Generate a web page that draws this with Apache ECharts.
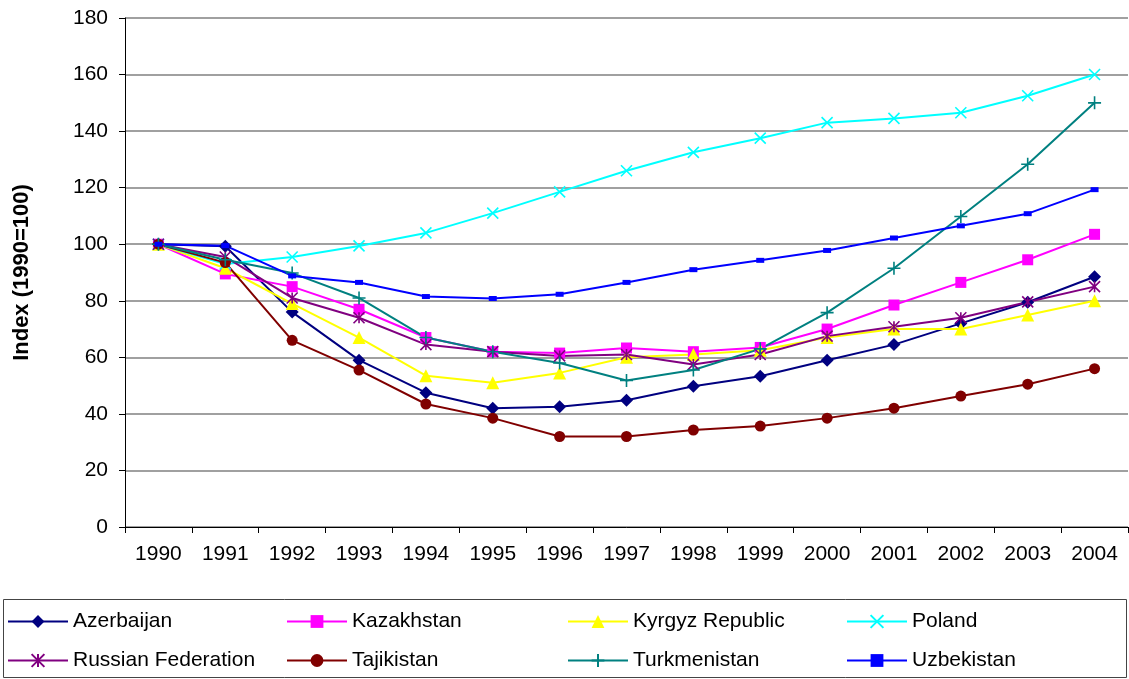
<!DOCTYPE html>
<html>
<head>
<meta charset="utf-8">
<script src="https://cdn.jsdelivr.net/npm/echarts@6/dist/echarts.min.js"></script>
<style>
  html, body { margin: 0; padding: 0; background: #fff; }
  #main { width: 1129px; height: 679px; }
</style>
</head>
<body>
<div id="main"></div>
<script>
var years = ['1990','1991','1992','1993','1994','1995','1996','1997','1998','1999','2000','2001','2002','2003','2004'];
var yTicks = [0, 20, 40, 60, 80, 100, 120, 140, 160, 180];

var azerbaijan   = [100, 99.3, 76, 59, 47.5, 42, 42.5, 44.8, 49.8, 53.3, 59, 64.5, 72, 79.5, 88.5];
var kazakhstan   = [100, 89.5, 85, 77, 67, 62, 61.5, 63.3, 62, 63.5, 70, 78.5, 86.5, 94.5, 103.5];
var kyrgyz       = [100, 91.5, 79, 67, 53.5, 51, 54.5, 60, 61, 62.5, 67, 70, 70, 75, 80];
var poland       = [100, 93, 95.5, 99.4, 104, 111, 118.5, 126, 132.5, 137.5, 143, 144.5, 146.5, 152.5, 160];
var russia       = [100, 95.5, 81, 74, 64.5, 62, 60.5, 61, 57.5, 61, 67.5, 70.8, 74, 79.6, 85];
var tajikistan   = [100, 93.5, 66, 55.5, 43.5, 38.5, 32, 32, 34.3, 35.7, 38.5, 42, 46.3, 50.5, 56];
var turkmenistan = [100, 94.5, 89.8, 81, 67, 62, 58, 51.8, 55.5, 63, 75.8, 91.5, 109.8, 128.3, 150];
var uzbekistan   = [100, 99.5, 88.8, 86.5, 81.5, 80.8, 82.3, 86.5, 91, 94.3, 97.8, 102.2, 106.5, 110.8, 119.3];

var seriesNames = ['Azerbaijan', 'Kazakhstan', 'Kyrgyz Republic', 'Poland',
                   'Russian Federation', 'Tajikistan', 'Turkmenistan', 'Uzbekistan'];

var X_PATH = 'path://M0,0L10,10M10,0L0,10';
var STAR_PATH = 'path://M0,0L10,10M10,0L0,10M5,0L5,10';
var PLUS_PATH = 'path://M5,0L5,10M0,5L10,5';

function mk(name, data, color, symbol, size, stroke) {
  return {
    name: name,
    type: 'line',
    data: data,
    symbol: symbol,
    symbolSize: size,
    lineStyle: { color: color, width: 2 },
    itemStyle: stroke
      ? { color: color, borderColor: color, borderWidth: 1.6 }
      : { color: color, borderWidth: 0 },
    emphasis: { disabled: true },
    animation: false
  };
}

var font = 'Liberation Sans, Arial, sans-serif';

// legend laid out as a 4 x 2 grid, one small legend per entry
var colX = [7, 286, 567, 846];
var rowY = [611, 650];
var legends = seriesNames.map(function (n, i) {
  return {
    left: colX[i % 4],
    top: rowY[Math.floor(i / 4)],
    padding: 0,
    data: [n],
    itemWidth: 60,
    itemHeight: 16,
    itemGap: 0,
    textStyle: { fontFamily: font, fontSize: 21, color: '#000', padding: [0, 0, 0, 0] }
  };
});

var myChart = echarts.init(document.getElementById('main'));
myChart.setOption({
  backgroundColor: '#fff',
  animation: false,
  grid: { left: 125, right: 1, top: 18, bottom: 152 },
  legend: legends,
  graphic: [{
    type: 'rect',
    shape: { x: 3.5, y: 599.5, width: 1123, height: 78 },
    style: { fill: 'none', stroke: '#444', lineWidth: 1 },
    silent: true
  }],
  xAxis: {
    type: 'category',
    data: years,
    boundaryGap: true,
    axisLine: { lineStyle: { color: '#000', width: 1 } },
    axisTick: { show: true, interval: 0, length: 6, lineStyle: { color: '#000' } },
    axisLabel: { fontFamily: font, fontSize: 21, color: '#000', margin: 17, interval: 0 }
  },
  yAxis: {
    type: 'value',
    min: yTicks[0],
    max: yTicks[yTicks.length - 1],
    interval: 20,
    name: 'Index (1990=100)',
    nameLocation: 'middle',
    nameGap: 92,
    nameTextStyle: { fontFamily: font, fontSize: 22, fontWeight: 'bold', color: '#000' },
    axisLine: { show: true, lineStyle: { color: '#000', width: 1 } },
    axisTick: { show: true, length: 6, lineStyle: { color: '#000' } },
    axisLabel: { fontFamily: font, fontSize: 21, color: '#000', margin: 17 },
    splitLine: { show: true, lineStyle: { color: '#808080', width: 1.5 } }
  },
  series: [
    mk('Azerbaijan', azerbaijan, '#000080', 'diamond', 13, false),
    mk('Kazakhstan', kazakhstan, '#FF00FF', 'rect', 11, false),
    mk('Kyrgyz Republic', kyrgyz, '#FFFF00', 'triangle', 13, false),
    mk('Poland', poland, '#00FFFF', X_PATH, 11, true),
    mk('Russian Federation', russia, '#800080', STAR_PATH, 11, true),
    mk('Tajikistan', tajikistan, '#800000', 'circle', 11, false),
    mk('Turkmenistan', turkmenistan, '#008080', PLUS_PATH, 13, true),
    mk('Uzbekistan', uzbekistan, '#0000FF', 'rect', [8, 5], false)
  ]
});
</script>
</body>
</html>
